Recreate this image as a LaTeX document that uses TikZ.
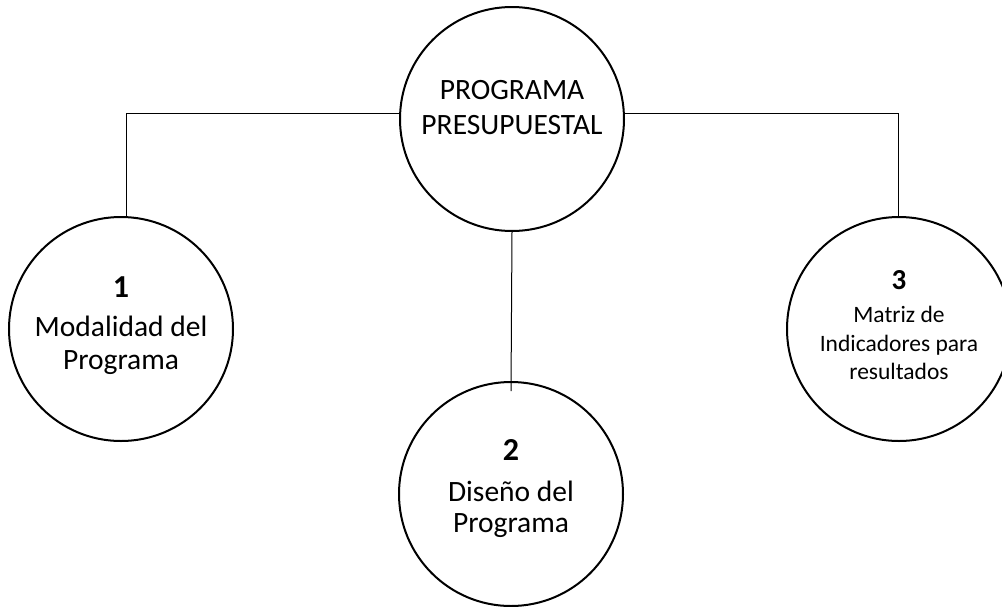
\documentclass[tikz,border=0pt]{standalone}
\usepackage{fontspec}
\setmainfont[Numbers=Lining]{Carlito}
\usetikzlibrary{positioning}

\newcommand{\bignum}[2]{{\fontsize{#1}{#1}\selectfont\bfseries #2}}

\tikzset{
  bubble/.style={draw, circle, line width=2pt, minimum size=224pt, inner sep=0pt},
  bubbletext/.style={align=center, font=\fontsize{29.5}{33}\selectfont},
  smalltext/.style={align=center, font=\fontsize{23.5}{28.5}\selectfont},
  link/.style={line width=1pt},
}

\begin{document}
\begin{tikzpicture}[x=1pt,y=-1pt]
  \useasboundingbox (0,0) rectangle (1002,606);

  % the four circles
  \node[bubble] (root) at (512,119) {};
  \node[bubble] (mod) at (121,329) {};
  \node[bubble] (dis) at (511,494) {};
  \node[bubble] (mir) at (899,329) {};

  % their texts
  \node[bubbletext, font=\fontsize{29.5}{35}\selectfont] (roottext) at (512,108) {PROGRAMA\\PRESUPUESTAL};
  \node[bubbletext] (modtext) at (121,326) {\bignum{32}{1}\\[6pt]Modalidad del\\Programa};
  \node[bubbletext] (distext) at (511,489) {\bignum{32}{2}\\[8pt]Diseño del\\[-2pt]Programa};
  \node[smalltext] (mirtext) at (899,325) {\bignum{29}{3}\\[5pt]Matriz de\\Indicadores para\\resultados};

  % connectors
  \coordinate (lcorner) at (126,113);
  \coordinate (rcorner) at (898,113);
  \draw[link] (lcorner |- mod.north) -- (lcorner) -- (lcorner -| root.west);
  \draw[link] (rcorner |- mir.north) -- (rcorner) -- (rcorner -| root.east);
  \draw[link] (root.south) -- ([yshift=-10pt]dis.north);
\end{tikzpicture}
\end{document}
